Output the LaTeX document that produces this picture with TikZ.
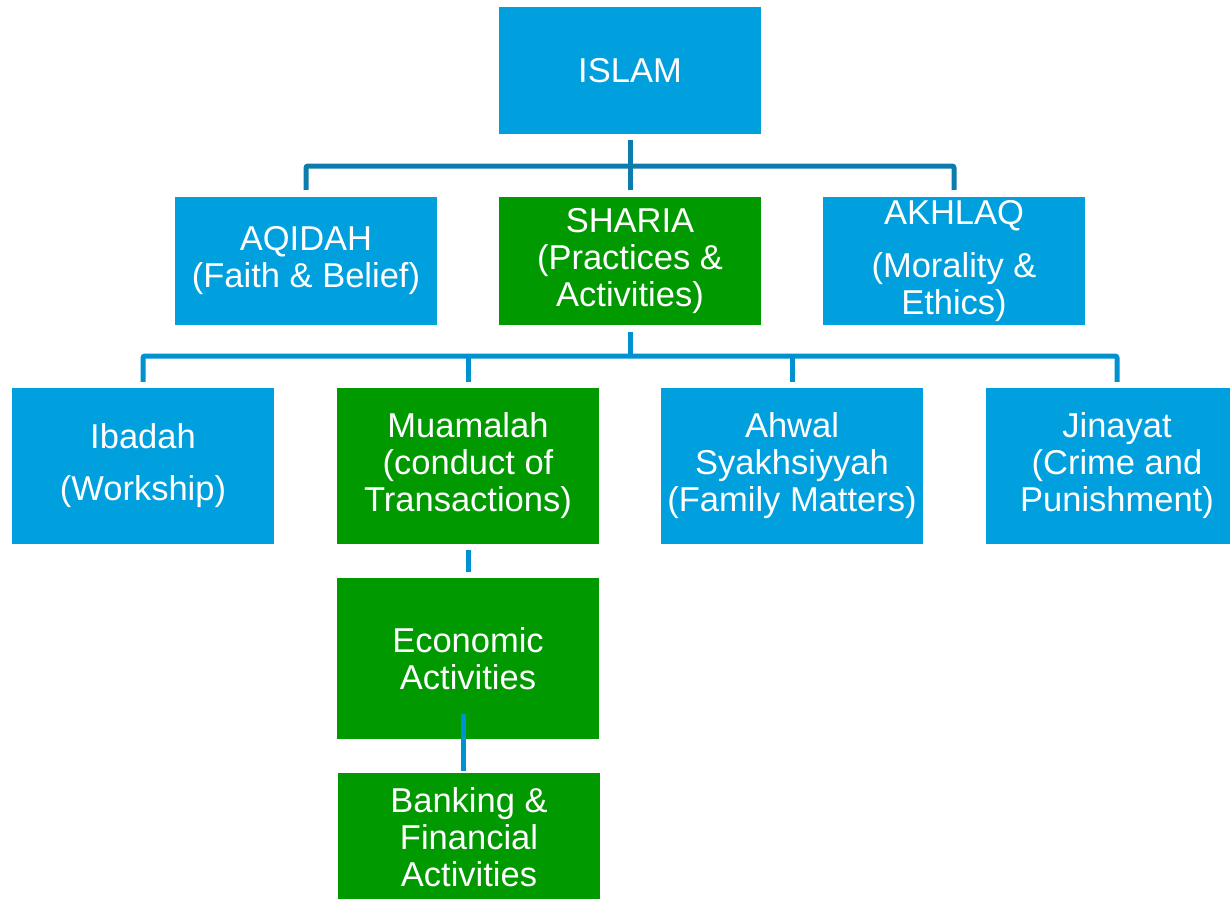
\documentclass[tikz,border=0pt]{standalone}
\usepackage{fontspec}
\setmainfont{Liberation Sans}
\definecolor{boxblue}{RGB}{0,160,223}
\definecolor{boxgreen}{RGB}{0,153,0}
\definecolor{linkdark}{RGB}{12,124,172}
\definecolor{linklight}{RGB}{0,145,208}
\tikzset{
  unit/.style={rectangle, inner sep=0pt, minimum width=262pt, text=white, align=center,
               font=\fontsize{34.5}{37}\selectfont},
  bluebox/.style={unit, fill=boxblue},
  greenbox/.style={unit, fill=boxgreen},
  linkA/.style={draw=linkdark, line width=5pt, rounded corners=2pt},
  linkB/.style={draw=linklight, line width=5pt, rounded corners=2pt},
}
\begin{document}
\begin{tikzpicture}[x=1pt, y=-1pt]
\useasboundingbox (0,0) rectangle (1230,898);
\clip (0,0) rectangle (1230,898);

% top level
\node[bluebox, minimum height=127pt] (islam) at (630,70.5) {ISLAM};

% three pillars
\node[bluebox, minimum height=128pt] (aqidah) at (306,261) {AQIDAH\\(Faith \& Belief)};
\node[greenbox, minimum height=128pt] (sharia) at (630,261) {SHARIA\\(Practices \&\\Activities)};
\node[bluebox, minimum height=128pt] (akhlaq) at (954,261) {AKHLAQ\\[16pt](Morality \&\\Ethics)};

% branches of sharia
\node[bluebox, minimum height=156pt] (ibadah) at (143,466) {Ibadah\\[15pt](Workship)};
\node[greenbox, minimum height=156pt] (muamalah) at (468,466) {Muamalah\\(conduct of\\Transactions)};
\node[bluebox, minimum height=156pt] (ahwal) at (792,466) {Ahwal\\Syakhsiyyah\\(Family Matters)};
\node[bluebox, minimum height=156pt] (jinayat) at (1117,466) {Jinayat\\(Crime and\\Punishment)};

% muamalah chain
\node[greenbox, minimum height=161pt] (economic) at (468,658.5) {Economic\\Activities};
\node[greenbox, minimum height=128pt] (banking) at (469,837) {Banking \&\\Financial\\Activities};

% buses
\coordinate (busA) at (630,166);
\coordinate (busB) at (630,356);

% islam -> pillars
\draw[linkA] ([yshift=-6pt]islam.south) -- ([yshift=7pt]sharia.north);
\draw[linkA] ([yshift=7pt]aqidah.north) -- (aqidah.north |- busA)
  -- (akhlaq.north |- busA) -- ([yshift=7pt]akhlaq.north);

% sharia -> branches
\draw[linkB] ([yshift=-7pt]sharia.south) -- (busB);
\draw[linkB] ([yshift=6pt]ibadah.north) -- (ibadah.north |- busB)
  -- (jinayat.north |- busB) -- ([yshift=6pt]jinayat.north);
\draw[linkB] (muamalah.north |- busB) -- ([yshift=6pt]muamalah.north);
\draw[linkB] (ahwal.north |- busB) -- ([yshift=6pt]ahwal.north);

% muamalah -> economic -> banking
\draw[linkB] ([yshift=-6pt]muamalah.south) -- ([yshift=6pt]economic.north);
\coordinate (eb) at ([xshift=-5pt,yshift=25pt]economic.south);
\draw[linkB, shorten >=2pt] (eb) -- (eb |- banking.north);
\end{tikzpicture}
\end{document}
